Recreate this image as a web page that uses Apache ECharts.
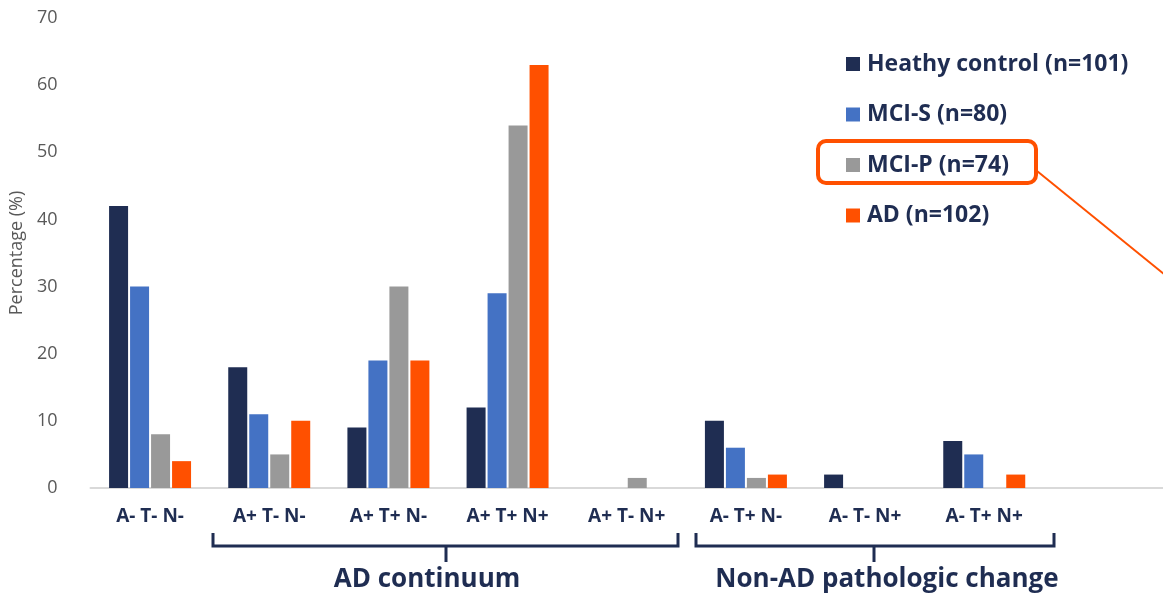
<!DOCTYPE html>
<html>
<head>
<meta charset="utf-8">
<script src="https://cdn.jsdelivr.net/npm/echarts@6/dist/echarts.min.js"></script>
<style>
html,body{margin:0;padding:0;background:#fff;}
#chart{width:1163px;height:595px;}
</style>
</head>
<body>
<div id="chart"></div>
<script>
var categories = ['A- T- N-','A+ T- N-','A+ T+ N-','A+ T+ N+','A+ T- N+','A- T+ N-','A- T- N+','A- T+ N+',''];
var healthy = [42,18,9,12,0,10,2,7,null];
var mciS    = [30,11,19,29,0,6,0,5,null];
var mciP    = [8,5,30,54,1.5,1.5,0,0,null];
var ad      = [4,10,19,63,0,2,0,2,null];
var seriesNames = ['Heathy control (n=101)','MCI-S (n=80)','MCI-P (n=74)','AD (n=102)'];
var colors = ['#1F2D52','#4472C4','#999999','#FF5000'];
var yTicks = {min:0, max:70, interval:10};

var navy = '#1F2D52';
var font = '"Open Sans", sans-serif';

var chart = echarts.init(document.getElementById('chart'));
var data = [healthy, mciS, mciP, ad];
var series = data.map(function(d, i){
  return {
    name: seriesNames[i],
    type: 'bar',
    data: d,
    barWidth: 19,
    barGap: '10.5%',
    itemStyle: {color: colors[i]},
    emphasis: {disabled: true}
  };
});

chart.setOption({
  animation: false,
  textStyle: {fontFamily: font},
  color: colors,
  grid: {left: 90, right: -7, top: 18, bottom: 107, containLabel: false},
  legend: {
    orient: 'vertical',
    left: 841,
    top: 44,
    itemWidth: 14,
    itemHeight: 14,
    itemGap: 20.5,
    icon: 'rect',
    selectedMode: false,
    textStyle: {fontFamily: font, fontSize: 23, fontWeight: 'bold', color: navy, padding: [0,0,0,2], lineHeight: 30},
    data: seriesNames
  },
  xAxis: {
    type: 'category',
    data: categories,
    axisTick: {show: false},
    axisLine: {lineStyle: {color: '#D9D9D9', width: 2}},
    axisLabel: {fontFamily: font, fontSize: 19, fontWeight: 'bold', color: navy, margin: 19, interval: 0}
  },
  yAxis: {
    type: 'value',
    min: yTicks.min, max: yTicks.max, interval: yTicks.interval,
    name: 'Percentage (%)',
    nameLocation: 'middle',
    nameRotate: 90,
    nameGap: 60,
    nameTextStyle: {fontFamily: font, fontSize: 18, color: '#595959'},
    splitLine: {show: false},
    axisLine: {show: false},
    axisTick: {show: false},
    axisLabel: {fontFamily: font, fontSize: 18, color: '#595959', margin: 33}
  },
  series: series,
  graphic: [
    {type: 'rect', shape: {x: 818, y: 141, width: 218, height: 42, r: 8},
     style: {fill: 'none', stroke: '#FF5000', lineWidth: 4}},
    {type: 'line', shape: {x1: 1037, y1: 171, x2: 1175, y2: 283},
     style: {stroke: '#FF5000', lineWidth: 2}},
    {type: 'polyline', shape: {points: [[213,533],[213,546],[678,546],[678,533]]},
     style: {stroke: navy, lineWidth: 3, fill: 'none'}},
    {type: 'line', shape: {x1: 446, y1: 546, x2: 446, y2: 562}, style: {stroke: navy, lineWidth: 3}},
    {type: 'polyline', shape: {points: [[696,533],[696,546],[1054,546],[1054,533]]},
     style: {stroke: navy, lineWidth: 3, fill: 'none'}},
    {type: 'line', shape: {x1: 874, y1: 546, x2: 874, y2: 562}, style: {stroke: navy, lineWidth: 3}},
    {type: 'text', x: 427, y: 580, style: {text: 'AD continuum', fontFamily: font, fontSize: 26, fontWeight: 'bold', fill: navy, textAlign: 'center', textVerticalAlign: 'middle'}},
    {type: 'text', x: 887, y: 580, style: {text: 'Non-AD pathologic change', fontFamily: font, fontSize: 26, fontWeight: 'bold', fill: navy, textAlign: 'center', textVerticalAlign: 'middle'}}
  ]
});
</script>
</body>
</html>
